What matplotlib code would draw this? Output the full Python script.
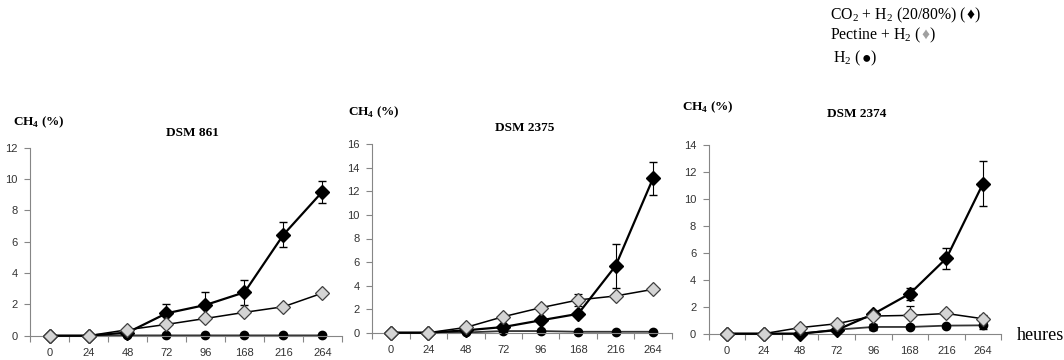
import matplotlib
matplotlib.use('Agg')
import matplotlib.pyplot as plt
import numpy as np

plt.rcParams['mathtext.fontset'] = 'custom'
plt.rcParams['mathtext.rm'] = 'Liberation Serif'
plt.rcParams['mathtext.bf'] = 'Liberation Serif:bold'

hours = ['0', '24', '48', '72', '96', '168', '216', '264']

# DSM 861
co2_861 = [0, 0, 0.2, 1.43, 1.96, 2.77, 6.45, 9.2]
co2_861_err = [0, 0, 0.05, 0.6, 0.85, 0.78, 0.82, 0.7]
pec_861 = [0, 0, 0.38, 0.72, 1.1, 1.49, 1.85, 2.72]
pec_861_err = [0, 0, 0, 0, 0, 0, 0, 0]
h2_861 = [0, 0, 0.02, 0.02, 0.02, 0.02, 0.02, 0.02]
h2_861_err = [0, 0, 0, 0, 0, 0, 0, 0]

# DSM 2375
co2_2375 = [0, 0, 0.2, 0.48, 1.05, 1.6, 5.67, 13.1]
co2_2375_err = [0, 0, 0, 0, 0, 0, 1.85, 1.4]
pec_2375 = [0, 0, 0.45, 1.36, 2.12, 2.78, 3.12, 3.68]
pec_2375_err = [0, 0, 0, 0, 0, 0.48, 0, 0]
h2_2375 = [0, 0, 0.02, 0.14, 0.14, 0.08, 0.08, 0.08]
h2_2375_err = [0, 0, 0, 0, 0, 0, 0, 0]

# DSM 2374
co2_2374 = [0, 0, 0, 0.27, 1.46, 2.97, 5.6, 11.14]
co2_2374_err = [0, 0, 0, 0, 0, 0.45, 0.78, 1.67]
pec_2374 = [0, 0, 0.45, 0.74, 1.31, 1.36, 1.5, 1.11]
pec_2374_err = [0, 0, 0, 0, 0, 0.7, 0, 0.3]
h2_2374 = [0, 0, 0, 0.3, 0.5, 0.5, 0.6, 0.62]
h2_2374_err = [0, 0, 0, 0, 0.2, 0, 0, 0.25]

W, H = 1064, 360
fig = plt.figure(figsize=(W / 100, H / 100), dpi=100)

panels = [
    dict(title='DSM 861', ymax=12, rect=(30, 147.7, 342, 335.7),
         co2=(co2_861, co2_861_err), pec=(pec_861, pec_861_err), h2=(h2_861, h2_861_err),
         title_xy=(192, 133), ylab_xy=(13, 122)),
    dict(title='DSM 2375', ymax=16, rect=(372.3, 144.3, 671.7, 332.7),
         co2=(co2_2375, co2_2375_err), pec=(pec_2375, pec_2375_err), h2=(h2_2375, h2_2375_err),
         title_xy=(525, 128), ylab_xy=(348, 112)),
    dict(title='DSM 2374', ymax=14, rect=(708.7, 145, 1001.3, 333.7),
         co2=(co2_2374, co2_2374_err), pec=(pec_2374, pec_2374_err), h2=(h2_2374, h2_2374_err),
         title_xy=(857, 114), ylab_xy=(682, 107)),
]

spine_c = '#868686'
x = np.arange(len(hours))

for p in panels:
    l, t, r, b = p['rect']
    ax = fig.add_axes([l / W, (H - b) / H, (r - l) / W, (b - t) / H])
    ax.set_xlim(-0.5, len(hours) - 0.5)
    ax.set_ylim(0, p['ymax'])
    for s in ['top', 'right']:
        ax.spines[s].set_visible(False)
    for s in ['left', 'bottom']:
        ax.spines[s].set_color(spine_c)
        ax.spines[s].set_linewidth(0.8)
    ax.set_yticks(np.arange(0, p['ymax'] + 1, 2))
    ax.set_xticks(x)
    ax.set_xticklabels(hours)
    ax.set_xticks(np.arange(-0.5, len(hours), 1), minor=True)
    ax.tick_params(axis='x', which='major', length=0, pad=9)
    ax.tick_params(axis='x', which='minor', length=4, color=spine_c, width=0.8)
    ax.tick_params(axis='y', length=4, color=spine_c, width=0.8, pad=5)
    for lab in ax.get_xticklabels() + ax.get_yticklabels():
        lab.set_fontfamily('Liberation Sans')
        lab.set_fontsize(8)
        lab.set_color('#333333')

    hv, he = p['h2']
    ax.errorbar(x, hv, yerr=he, color='#333333', lw=1.3, marker='o', ms=6,
                mfc='black', mec='black', ecolor='black', elinewidth=0.8, capsize=3, zorder=2)
    cv, ce = p['co2']
    ax.errorbar(x, cv, yerr=ce, color='black', lw=1.6, marker='D', ms=7,
                mfc='black', mec='black', ecolor='black', elinewidth=0.8, capsize=3, zorder=3)
    pv, pe = p['pec']
    ax.errorbar(x, pv, yerr=pe, color='black', lw=1.1, marker='D', ms=7,
                mfc='#d4d4d4', mec='#404040', mew=0.9, ecolor='black', elinewidth=0.8,
                capsize=3, zorder=4)
    for ln in ax.lines:
        ln.set_clip_on(False)

    tx, ty = p['title_xy']
    fig.text(tx / W, (H - ty) / H, p['title'], ha='center', va='center',
             family='Liberation Serif', weight='bold', fontsize=9.5)
    lx, ly = p['ylab_xy']
    fig.text(lx / W, (H - ly) / H, r'CH$_\mathbf{4}$ (%)', ha='left', va='center',
             family='Liberation Serif', weight='bold', fontsize=9.5)

fig.text(1017 / W, (H - 335) / H, 'heures', ha='left', va='center',
         family='Liberation Serif', fontsize=13)

# legend written as text runs
renderer = fig.canvas.get_renderer()
fam = ['Liberation Serif', 'DejaVu Sans']


def text_runs(x0, y0, runs, size=11.3):
    xp = x0
    for s, c in runs:
        t = fig.text(xp / W, (H - y0) / H, s, ha='left', va='center', color=c,
                     family=fam, fontsize=size)
        bb = t.get_window_extent(renderer)
        xp += bb.width


text_runs(830, 15, [('CO$_2$ + H$_2$ (20/80%) (', 'black'), ('\u2666', 'black'), (')', 'black')])
text_runs(830, 35, [('Pectine + H$_2$ (', 'black'), ('\u2666', '#a0a0a0'), (')', 'black')])
text_runs(833, 58, [('H$_2$ (', 'black'), ('\u25cf', 'black'), (')', 'black')])

fig.savefig('out.png', dpi=100)
